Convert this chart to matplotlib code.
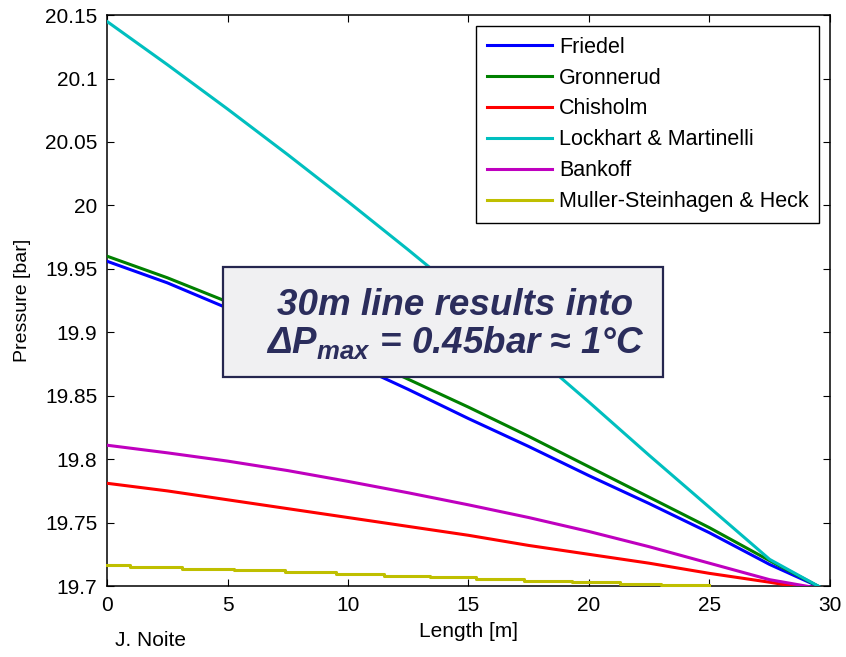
import matplotlib
matplotlib.use('Agg')
import matplotlib.pyplot as plt
from matplotlib.patches import Rectangle
from matplotlib.ticker import FuncFormatter

plt.rcParams['font.family'] = ['Liberation Sans', 'DejaVu Sans']
plt.rcParams['mathtext.fontset'] = 'custom'
plt.rcParams['mathtext.rm'] = 'Liberation Sans:bold:italic'
plt.rcParams['mathtext.it'] = 'Liberation Sans:bold:italic'
plt.rcParams['mathtext.default'] = 'regular'

# length along the line [m]
length = [0, 2.5, 5, 7.5, 10, 12.5, 15, 17.5, 20, 22.5, 25, 27.5]

# pressure [bar] per correlation
friedel = [19.956, 19.939, 19.919, 19.898, 19.877, 19.855, 19.832, 19.810, 19.787, 19.765, 19.742, 19.717, 19.699]
gronnerud = [19.960, 19.943, 19.924, 19.905, 19.885, 19.863, 19.841, 19.818, 19.794, 19.770, 19.746, 19.720, 19.699]
chisholm = [19.781, 19.775, 19.768, 19.761, 19.754, 19.747, 19.740, 19.732, 19.725, 19.718, 19.710, 19.703, 19.699]
lockhart = [20.145, 20.111, 20.076, 20.040, 20.003, 19.965, 19.926, 19.886, 19.845, 19.803, 19.762, 19.721, 19.698]
bankoff = [19.811, 19.805, 19.7985, 19.791, 19.7825, 19.7735, 19.764, 19.754, 19.743, 19.731, 19.718, 19.705, 19.699]
end_len = {'friedel': 29.6, 'gronnerud': 29.6, 'chisholm': 28.8, 'lockhart': 29.7, 'bankoff': 29.3}

# Muller-Steinhagen & Heck is stepped
msh_len = [0, 0.95, 3.1, 5.25, 7.4, 9.5, 11.5, 13.4, 15.3, 17.3, 19.3, 21.3, 23.0, 25.0]
msh = [19.7165, 19.7151, 19.7138, 19.7124, 19.7110, 19.7096, 19.7083, 19.7069,
       19.7055, 19.7041, 19.7028, 19.7014, 19.7005, 19.7005]

fig = plt.figure(figsize=(8.46, 6.57), dpi=100)
ax = fig.add_axes([0.1265, 0.108, 0.8545, 0.869])

lw = 2.2
ax.plot(length + [end_len['friedel']], friedel, color=(0, 0, 1), lw=lw, label='Friedel', zorder=3)
ax.plot(length + [end_len['gronnerud']], gronnerud, color=(0, 0.5, 0), lw=lw, label='Gronnerud', zorder=3)
ax.plot(length + [end_len['chisholm']], chisholm, color=(1, 0, 0), lw=lw, label='Chisholm', zorder=3)
ax.plot(length + [end_len['lockhart']], lockhart, color=(0, 0.75, 0.75), lw=lw,
        label='Lockhart & Martinelli', zorder=3)
ax.plot(length + [end_len['bankoff']], bankoff, color=(0.75, 0, 0.75), lw=lw, label='Bankoff', zorder=3)
ax.plot(msh_len, msh, color=(0.75, 0.75, 0), lw=lw, drawstyle='steps-post',
        label='Muller-Steinhagen & Heck', zorder=3, clip_on=False)

ax.set_xlim(0, 30)
ax.set_ylim(19.7, 20.15)
ax.set_xticks([0, 5, 10, 15, 20, 25, 30])
ax.set_yticks([19.7, 19.75, 19.8, 19.85, 19.9, 19.95, 20.0, 20.05, 20.1, 20.15])
ax.yaxis.set_major_formatter(FuncFormatter(lambda v, p: '%g' % round(v, 2)))
ax.tick_params(direction='in', top=True, right=True, length=5, width=0.8, labelsize=15, pad=7)
for s in ax.spines.values():
    s.set_linewidth(1.1)

ax.set_xlabel('Length [m]', fontsize=15, labelpad=5)
ax.set_ylabel('Pressure [bar]', fontsize=14, labelpad=10)

leg = ax.legend(loc='upper right', fontsize=15.5, fancybox=False, framealpha=1,
                edgecolor='black', handlelength=3.0, handletextpad=0.33,
                labelspacing=0.46, borderaxespad=0.5, borderpad=0.5)
leg.get_frame().set_linewidth(1.0)

# annotation box
ax.add_patch(Rectangle((0.160, 0.366), 0.609, 0.193, transform=ax.transAxes,
                       facecolor='#f0f0f2', edgecolor='#25264f', lw=1.6, zorder=5))
ax.text(0.481, 0.458, '30m line results into\n$\\Delta P_{max}$ = 0.45bar \u2248 1\u00b0C',
        transform=ax.transAxes, ha='center', va='center', fontsize=26.5,
        fontweight='bold', fontstyle='italic', color='#2b2d5c',
        linespacing=1.05, zorder=6)

fig.text(0.136, 0.025, 'J. Noite', fontsize=15, va='center', ha='left')

fig.savefig('out.png', dpi=100)
